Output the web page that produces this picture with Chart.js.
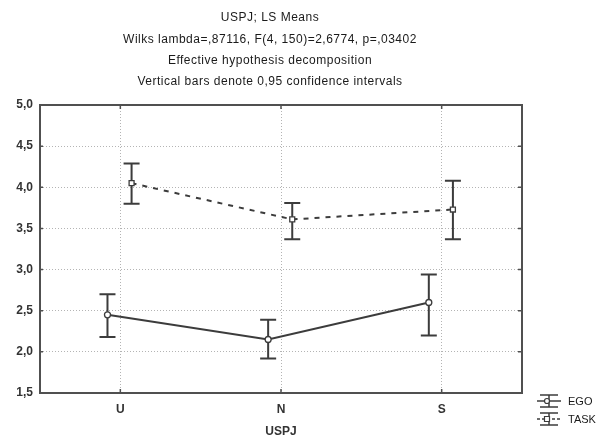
<!DOCTYPE html>
<html>
<head>
<meta charset="utf-8">
<script src="https://cdn.jsdelivr.net/npm/chart.js@4.4.1/dist/chart.umd.min.js"></script>
<style>
  html, body { margin: 0; padding: 0; background: #fff; }
  #wrap { width: 600px; height: 439px; position: relative; }
</style>
</head>
<body>
<div id="wrap"><canvas id="c" width="600" height="439"></canvas></div>
<script>
// ---- data ----
const categories = ['U', 'N', 'S'];
const seriesNames = ['EGO', 'TASK'];
const egoMean = [2.45, 2.15, 2.60];
const egoLow  = [2.18, 1.92, 2.20];
const egoHigh = [2.70, 2.39, 2.94];
const taskMean = [4.05, 3.61, 3.73];
const taskLow  = [3.80, 3.37, 3.37];
const taskHigh = [4.29, 3.81, 4.08];
const yTicks = [1.5, 2.0, 2.5, 3.0, 3.5, 4.0, 4.5, 5.0];
const titleLines = [
  'USPJ; LS Means',
  'Wilks lambda=,87116, F(4, 150)=2,6774, p=,03402',
  'Effective hypothesis decomposition',
  'Vertical bars denote 0,95 confidence intervals'
];
const xTitle = 'USPJ';

// ---- style ----
const INK = '#3c3c3c';
const FONT = 'Arial, "Liberation Sans", sans-serif';
const egoShift = -0.08;   // horizontal dodge of the series (in category units)
const taskShift = 0.07;

const egoPts = egoMean.map((v, i) => ({x: i + 1 + egoShift, y: v}));
const taskPts = taskMean.map((v, i) => ({x: i + 1 + taskShift, y: v}));

const bars = [
  {shift: egoShift, low: egoLow, high: egoHigh},
  {shift: taskShift, low: taskLow, high: taskHigh}
];

const decor = {
  id: 'decor',
  beforeDraw(chart) {
    const ctx = chart.ctx;
    ctx.save();
    ctx.fillStyle = '#fff';
    ctx.fillRect(0, 0, chart.width, chart.height);
    // titles
    ctx.fillStyle = '#1a1a1a';
    ctx.font = '12px ' + FONT;
    ctx.textAlign = 'center';
    ctx.textBaseline = 'middle';
    try { ctx.letterSpacing = '0.5px'; } catch (e) {}
    const ys = [18, 39.5, 61, 82];
    titleLines.forEach((t, i) => ctx.fillText(t, 270, ys[i]));
    try { ctx.letterSpacing = '0px'; } catch (e) {}
    ctx.restore();
  },
  beforeDatasetsDraw(chart) {
    const ctx = chart.ctx;
    const a = chart.chartArea;
    const xs = chart.scales.x, ys = chart.scales.y;
    ctx.save();
    // frame
    ctx.strokeStyle = '#505050';
    ctx.lineWidth = 2;
    ctx.strokeRect(a.left, a.top, a.right - a.left, a.bottom - a.top);
    // inward ticks
    ctx.lineWidth = 1.5;
    yTicks.forEach(v => {
      const y = ys.getPixelForValue(v);
      ctx.beginPath();
      ctx.moveTo(a.right, y); ctx.lineTo(a.right - 4, y);
      ctx.moveTo(a.left, y); ctx.lineTo(a.left + 3, y);
      ctx.stroke();
    });
    categories.forEach((c, i) => {
      const x = xs.getPixelForValue(i + 1);
      ctx.beginPath();
      ctx.moveTo(x, a.top); ctx.lineTo(x, a.top + 4);
      ctx.moveTo(x, a.bottom); ctx.lineTo(x, a.bottom - 4);
      ctx.stroke();
    });
    // error bars
    ctx.strokeStyle = INK;
    ctx.lineWidth = 2;
    bars.forEach(b => {
      b.low.forEach((lo, i) => {
        const x = xs.getPixelForValue(i + 1 + b.shift);
        const y1 = ys.getPixelForValue(lo);
        const y2 = ys.getPixelForValue(b.high[i]);
        ctx.beginPath();
        ctx.moveTo(x, y1); ctx.lineTo(x, y2);
        ctx.moveTo(x - 8, y1); ctx.lineTo(x + 8, y1);
        ctx.moveTo(x - 8, y2); ctx.lineTo(x + 8, y2);
        ctx.stroke();
      });
    });
    ctx.restore();
  },
  afterDraw(chart) {
    const ctx = chart.ctx;
    ctx.save();
    const items = [
      {name: seriesNames[0], cy: 401, dash: [], marker: 'circle'},
      {name: seriesNames[1], cy: 419, dash: [3, 2], marker: 'rect'}
    ];
    items.forEach(it => {
      const cx = 549;
      ctx.strokeStyle = INK;
      ctx.lineWidth = 1.5;
      ctx.beginPath();
      ctx.moveTo(cx, it.cy - 6); ctx.lineTo(cx, it.cy + 6);
      ctx.moveTo(cx - 9, it.cy - 6); ctx.lineTo(cx + 9, it.cy - 6);
      ctx.moveTo(cx - 9, it.cy + 6); ctx.lineTo(cx + 9, it.cy + 6);
      ctx.stroke();
      ctx.setLineDash(it.dash);
      ctx.beginPath();
      ctx.moveTo(cx - 12, it.cy); ctx.lineTo(cx + 12, it.cy);
      ctx.stroke();
      ctx.setLineDash([]);
      ctx.fillStyle = '#fff';
      ctx.lineWidth = 1.2;
      ctx.beginPath();
      if (it.marker === 'circle') ctx.arc(cx - 2, it.cy, 2.5, 0, Math.PI * 2);
      else ctx.rect(cx - 4.5, it.cy - 2.5, 5, 5);
      ctx.fill(); ctx.stroke();
      ctx.fillStyle = '#1a1a1a';
      ctx.font = '11px ' + FONT;
      ctx.textAlign = 'left';
      ctx.textBaseline = 'middle';
      ctx.fillText(it.name, 568, it.cy + 1);
    });
    ctx.restore();
  }
};

new Chart(document.getElementById('c'), {
  type: 'line',
  data: {
    datasets: [
      {
        label: seriesNames[0],
        data: egoPts,
        borderColor: INK,
        borderWidth: 2,
        pointStyle: 'circle',
        pointRadius: 3,
        pointBackgroundColor: '#fff',
        pointBorderColor: INK,
        pointBorderWidth: 1.3,
        tension: 0,
        fill: false
      },
      {
        label: seriesNames[1],
        data: taskPts,
        borderColor: INK,
        borderWidth: 2,
        borderDash: [5, 6],
        pointStyle: 'rect',
        pointRadius: 3.5,
        pointBackgroundColor: '#fff',
        pointBorderColor: INK,
        pointBorderWidth: 1.3,
        tension: 0,
        fill: false
      }
    ]
  },
  options: {
    responsive: false,
    animation: false,
    devicePixelRatio: 1,
    layout: { padding: { top: 105, right: 78, left: 0, bottom: 0 } },
    plugins: {
      legend: { display: false },
      title: { display: false },
      tooltip: { enabled: false }
    },
    scales: {
      x: {
        type: 'linear',
        min: 0.5,
        max: 3.5,
        afterBuildTicks: (s) => { s.ticks = categories.map((c, i) => ({value: i + 1})); },
        afterFit: (s) => { s.height = 46; },
        ticks: {
          callback: (v) => categories[v - 1],
          font: { family: FONT, size: 12, weight: 'bold' },
          color: '#333',
          padding: 9,
          autoSkip: false,
          maxRotation: 0
        },
        grid: { color: '#b4b4b4', lineWidth: 1, drawTicks: false },
        border: { display: false, dash: [1, 2] },
        title: {
          display: true,
          text: xTitle,
          font: { family: FONT, size: 12, weight: 'bold' },
          color: '#333',
          padding: { top: 0, bottom: 0 }
        }
      },
      y: {
        type: 'linear',
        min: 1.5,
        max: 5.0,
        afterBuildTicks: (s) => { s.ticks = yTicks.map(v => ({value: v})); },
        afterFit: (s) => { s.width = 40; },
        ticks: {
          callback: (v) => v.toFixed(1).replace('.', ','),
          font: { family: FONT, size: 12, weight: 'bold' },
          color: '#333',
          padding: 7
        },
        grid: { color: '#b4b4b4', lineWidth: 1, drawTicks: false },
        border: { display: false, dash: [1, 2] }
      }
    }
  },
  plugins: [decor]
});
</script>
</body>
</html>
